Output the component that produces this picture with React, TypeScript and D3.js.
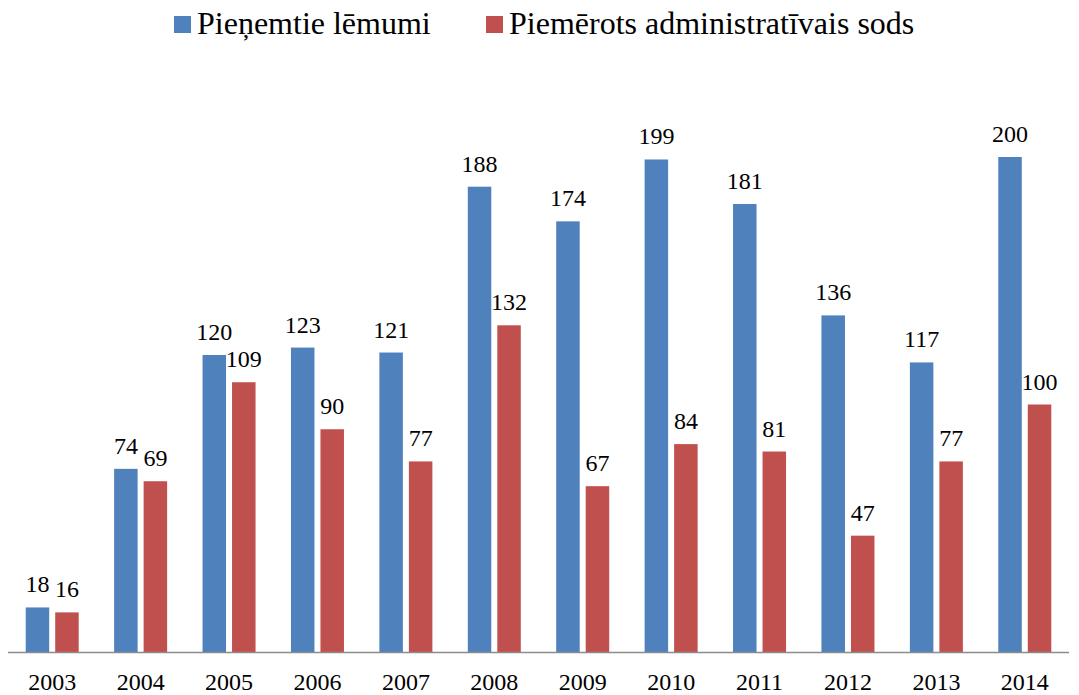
import React from 'react';
import * as d3 from 'd3';

const years = ['2003', '2004', '2005', '2006', '2007', '2008', '2009', '2010', '2011', '2012', '2013', '2014'];
const decisions = [18, 74, 120, 123, 121, 188, 174, 199, 181, 136, 117, 200];
const penalties = [16, 69, 109, 90, 77, 132, 67, 84, 81, 47, 77, 100];
const seriesNames = ['Pieņemtie lēmumi', 'Piemērots administratīvais sods'];

const W = 1079;
const H = 695;
const BLUE = '#4F81BD';
const RED = '#C0504D';
const FONT = "'Liberation Serif', 'DejaVu Serif', serif";

const App = () => {
  const x = d3.scaleBand().domain(years).range([8, 1069]);
  const y = d3.scaleLinear().domain([0, 200]).range([652, 157]);
  const barW = 23.5;
  const gap = 3;

  return (
    <svg width={W} height={H} style={{ position: 'absolute', left: 0, top: 0, background: '#fff', fontFamily: FONT }}>
      {/* legend */}
      <g style={{ fontFamily: FONT, fontSize: 32 }} fill="#000">
        <rect x={174} y={16} width={17} height={17} fill={BLUE} />
        <text x={197} y={34}>{seriesNames[0]}</text>
        <rect x={486} y={16} width={17} height={17} fill={RED} />
        <text x={509} y={34}>{seriesNames[1]}</text>
      </g>

      {/* bars */}
      {years.map((yr, i) => {
        const c = (x(yr) as number) + x.bandwidth() / 2;
        const bx = c - gap - barW;
        const rx = c + gap;
        return (
          <g key={yr} style={{ fontFamily: FONT, fontSize: 24 }}>
            <rect x={bx} y={y(decisions[i])} width={barW} height={y(0) - y(decisions[i])} fill={BLUE} />
            <rect x={rx} y={y(penalties[i])} width={barW} height={y(0) - y(penalties[i])} fill={RED} />
            <text x={bx + barW / 2} y={y(decisions[i]) - 15} textAnchor="middle">
              {decisions[i]}
            </text>
            <text x={rx + barW / 2} y={y(penalties[i]) - 15} textAnchor="middle">
              {penalties[i]}
            </text>
            <text x={c} y={690} textAnchor="middle">
              {yr}
            </text>
          </g>
        );
      })}

      {/* axis line */}
      <line x1={8} x2={1069} y1={y(0) + 0.5} y2={y(0) + 0.5} stroke="#8C8C8C" strokeWidth={1.5} />
    </svg>
  );
};

export default App;
